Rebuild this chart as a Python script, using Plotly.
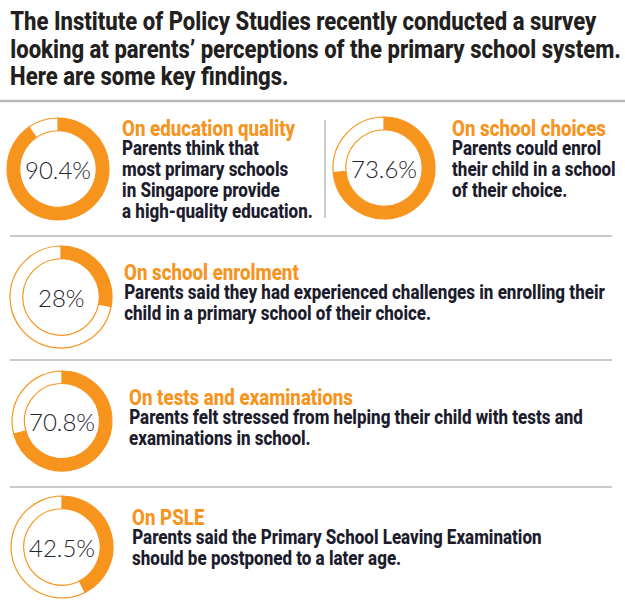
import plotly.graph_objects as go

W, H = 625, 602

# ---- data ----
percentages = [90.4, 73.6, 28.0, 70.8, 42.5]
pct_labels = ["90.4%", "73.6%", "28%", "70.8%", "42.5%"]
headings = ["On education quality", "On school choices", "On school enrolment",
            "On tests and examinations", "On PSLE"]
descriptions = [
    ["Parents think that", "most primary schools", "in Singapore provide", "a high-quality education."],
    ["Parents could enrol", "their child in a school", "of their choice."],
    ["Parents said they had experienced challenges in enrolling their",
     "child in a primary school of their choice."],
    ["Parents felt stressed from helping their child with tests and",
     "examinations in school."],
    ["Parents said the Primary School Leaving Examination",
     "should be postponed to a later age."],
]
title_lines = ["The Institute of Policy Studies recently conducted a survey",
               "looking at parents\u2019 perceptions of the primary school system.",
               "Here are some key findings."]

# ---- layout (pixels) ----
donut_pos = [(58, 169, 51), (384, 168, 51), (61, 297, 51), (62, 421, 50), (62, 547, 51)]
text_x = [120, 450, 122, 127, 130]
head_y = [128, 128, 272, 397, 517]
first_gap = 20
line_gap = 21

ORANGE = "#F7941D"
DARK = "#1c1c2c"
GREY = "#b5b9bb"
FONT = "Roboto"

def px(x):
    return x / W

def py(y):
    return 1 - y / H

fig = go.Figure()
annotations = []
shapes = []

for i, p in enumerate(percentages):
    cx, cy, r = donut_pos[i]
    fig.add_trace(go.Pie(
        values=[p, 100 - p],
        marker=dict(colors=[ORANGE, "white"], line=dict(color=ORANGE, width=1.2)),
        hole=0.75, sort=False, direction="clockwise", rotation=0,
        textinfo="none", hoverinfo="skip", showlegend=False,
        domain=dict(x=[px(cx - r), px(cx + r)], y=[py(cy + r), py(cy - r)]),
    ))
    annotations.append(dict(x=px(cx), y=py(cy), xref="paper", yref="paper",
                            text=pct_labels[i], showarrow=False,
                            xanchor="center", yanchor="middle",
                            font=dict(family="Lato Light, Lato", size=24, color="#1f2430")))
    annotations.append(dict(x=px(text_x[i]), y=py(head_y[i]), xref="paper", yref="paper",
                            text=headings[i], showarrow=False,
                            xanchor="left", yanchor="middle",
                            font=dict(family=FONT, size=22, weight=800, color=ORANGE)))
    for j, line in enumerate(descriptions[i]):
        annotations.append(dict(x=px(text_x[i]), y=py(head_y[i] + first_gap + line_gap * j),
                                xref="paper", yref="paper",
                                text=line, showarrow=False,
                                xanchor="left", yanchor="middle",
                                font=dict(family=FONT, size=20, weight=800, color=DARK)))

for j, line in enumerate(title_lines):
    annotations.append(dict(x=px(8), y=py(21 + 27.5 * j), xref="paper", yref="paper",
                            text=line, showarrow=False,
                            xanchor="left", yanchor="middle",
                            font=dict(family=FONT, size=26, weight=800, color="#231f20")))

# separators
shapes.append(dict(type="line", xref="paper", yref="paper", x0=0, x1=1, y0=py(101), y1=py(101),
                   line=dict(color=GREY, width=2.5)))
for yy in [236, 360, 487]:
    shapes.append(dict(type="line", xref="paper", yref="paper", x0=px(10), x1=px(612),
                       y0=py(yy), y1=py(yy), line=dict(color=GREY, width=1.5)))
shapes.append(dict(type="line", xref="paper", yref="paper", x0=px(325), x1=px(325),
                   y0=py(120), y1=py(218), line=dict(color="#999", width=1)))

fig.update_layout(width=W, height=H, margin=dict(l=0, r=0, t=0, b=0),
                  paper_bgcolor="white", plot_bgcolor="white",
                  annotations=annotations, shapes=shapes)

# condensed look: narrow the bold Roboto texts horizontally around their left edge
post = """
document.body.style.margin='0';
document.querySelectorAll('text.annotation-text').forEach(function(t){
  if ((t.style.fontFamily || '').indexOf('Roboto') >= 0) {
    t.style.transformBox = 'fill-box';
    t.style.transformOrigin = '0% 50%';
    t.style.transform = 'scaleX(0.85)';
  }
});
"""
fig.write_html("out.html", post_script=post, config={"displayModeBar": False})
